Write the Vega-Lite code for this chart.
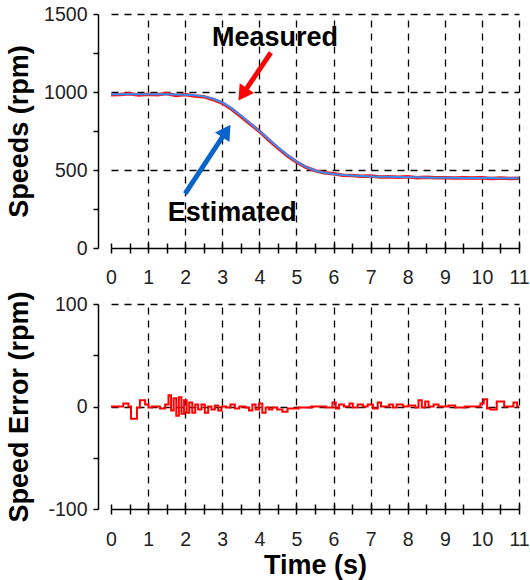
{
  "$schema": "https://vega.github.io/schema/vega-lite/v6.json",
  "padding": {"top": 4, "left": 5, "right": 0, "bottom": 1},
  "spacing": 3,
  "config": {
    "view": {"stroke": null},
    "font": "Liberation Sans",
    "axis": {
      "labelFont": "Liberation Sans",
      "labelFontSize": 19.5,
      "labelColor": "#222",
      "titleFont": "Liberation Sans",
      "titleFontSize": 27,
      "titleFontWeight": "bold",
      "titleColor": "#000",
      "domainColor": "#000",
      "domainWidth": 1.5,
      "tickColor": "#000",
      "tickWidth": 1.5,
      "gridColor": "#000",
      "gridWidth": 1.3,
      "gridDash": [7, 6],
      "labelOverlap": false,
      "labelFlush": false
    }
  },
  "datasets": {
    "speeds": [
      {"t": 0, "est": 986, "meas": 982},
      {"t": 0.25, "est": 986, "meas": 984},
      {"t": 0.5, "est": 986, "meas": 989},
      {"t": 0.75, "est": 986, "meas": 981},
      {"t": 1, "est": 986, "meas": 985},
      {"t": 1.25, "est": 986, "meas": 983},
      {"t": 1.5, "est": 985, "meas": 990},
      {"t": 1.75, "est": 984, "meas": 978},
      {"t": 2, "est": 982, "meas": 984},
      {"t": 2.25, "est": 979, "meas": 975},
      {"t": 2.5, "est": 972, "meas": 970},
      {"t": 2.75, "est": 957, "meas": 952},
      {"t": 3, "est": 933, "meas": 929},
      {"t": 3.25, "est": 895, "meas": 891},
      {"t": 3.5, "est": 849, "meas": 844},
      {"t": 3.75, "est": 800, "meas": 796},
      {"t": 4, "est": 750, "meas": 748},
      {"t": 4.25, "est": 697, "meas": 693},
      {"t": 4.5, "est": 646, "meas": 641},
      {"t": 4.75, "est": 597, "meas": 593},
      {"t": 5, "est": 554, "meas": 551},
      {"t": 5.25, "est": 520, "meas": 518},
      {"t": 5.5, "est": 497, "meas": 496},
      {"t": 5.75, "est": 483, "meas": 482},
      {"t": 6, "est": 474, "meas": 476},
      {"t": 6.25, "est": 468, "meas": 466},
      {"t": 6.5, "est": 464, "meas": 465},
      {"t": 6.75, "est": 461, "meas": 460},
      {"t": 7, "est": 459, "meas": 461},
      {"t": 7.25, "est": 457, "meas": 455},
      {"t": 7.5, "est": 456, "meas": 457},
      {"t": 7.75, "est": 455, "meas": 454},
      {"t": 8, "est": 454, "meas": 456},
      {"t": 8.25, "est": 453, "meas": 451},
      {"t": 8.5, "est": 452, "meas": 454},
      {"t": 8.75, "est": 451, "meas": 450},
      {"t": 9, "est": 450, "meas": 451},
      {"t": 9.25, "est": 450, "meas": 449},
      {"t": 9.5, "est": 449, "meas": 450},
      {"t": 9.75, "est": 449, "meas": 448},
      {"t": 10, "est": 448, "meas": 450},
      {"t": 10.25, "est": 448, "meas": 446},
      {"t": 10.5, "est": 447, "meas": 448},
      {"t": 10.75, "est": 447, "meas": 446},
      {"t": 11, "est": 447, "meas": 447}
    ],
    "arrows": [
      {"label": "Measured", "t": 4.31, "v": 1252, "t2": 3.55, "v2": 985, "tx": 4.42, "vx": 1297},
      {"label": "Estimated", "t": 2.0, "v": 348, "t2": 3.11, "v2": 750, "tx": 3.27, "vx": 175}
    ],
    "error": [
      {"t": 0, "err": 0}, {"t": 0.29, "err": 0}, {"t": 0.33, "err": 3}, {"t": 0.47, "err": 0},
      {"t": 0.54, "err": -12}, {"t": 0.7, "err": -1}, {"t": 0.78, "err": 6}, {"t": 0.92, "err": 2},
      {"t": 1.01, "err": -1}, {"t": 1.1, "err": 0}, {"t": 1.32, "err": -2}, {"t": 1.46, "err": 2},
      {"t": 1.55, "err": 11}, {"t": 1.62, "err": -4}, {"t": 1.69, "err": 8}, {"t": 1.76, "err": -9},
      {"t": 1.83, "err": 9}, {"t": 1.9, "err": -7}, {"t": 1.97, "err": 6}, {"t": 2.04, "err": -6},
      {"t": 2.11, "err": 4}, {"t": 2.19, "err": -6}, {"t": 2.27, "err": 2}, {"t": 2.35, "err": -3},
      {"t": 2.44, "err": 2}, {"t": 2.53, "err": -6}, {"t": 2.62, "err": 0}, {"t": 2.71, "err": -3},
      {"t": 2.8, "err": 1}, {"t": 2.89, "err": -4}, {"t": 2.98, "err": 0}, {"t": 3.1, "err": -1},
      {"t": 3.22, "err": 2}, {"t": 3.34, "err": -2}, {"t": 3.46, "err": 0}, {"t": 3.62, "err": -1},
      {"t": 3.72, "err": -4}, {"t": 3.81, "err": 2}, {"t": 3.9, "err": -3}, {"t": 3.99, "err": 3},
      {"t": 4.08, "err": -6}, {"t": 4.17, "err": -1}, {"t": 4.26, "err": -3}, {"t": 4.35, "err": -1},
      {"t": 4.48, "err": -3}, {"t": 4.62, "err": -5}, {"t": 4.76, "err": -2}, {"t": 5.05, "err": -1},
      {"t": 5.4, "err": 0}, {"t": 5.8, "err": -1}, {"t": 5.97, "err": 4}, {"t": 6.06, "err": -2},
      {"t": 6.15, "err": 2}, {"t": 6.28, "err": 0}, {"t": 6.43, "err": 3}, {"t": 6.52, "err": -1},
      {"t": 6.65, "err": 2}, {"t": 6.79, "err": 0}, {"t": 6.92, "err": 2}, {"t": 7.06, "err": -2},
      {"t": 7.19, "err": 4}, {"t": 7.28, "err": 0}, {"t": 7.5, "err": 2}, {"t": 7.6, "err": -1},
      {"t": 7.7, "err": 2}, {"t": 7.87, "err": 0}, {"t": 8.02, "err": 1}, {"t": 8.2, "err": -1},
      {"t": 8.29, "err": 6}, {"t": 8.38, "err": -1}, {"t": 8.47, "err": 5}, {"t": 8.56, "err": 0},
      {"t": 8.7, "err": 2}, {"t": 8.83, "err": 0}, {"t": 9.1, "err": 1}, {"t": 9.28, "err": -1},
      {"t": 9.55, "err": 0}, {"t": 9.96, "err": 3}, {"t": 10.05, "err": 7}, {"t": 10.14, "err": -2},
      {"t": 10.23, "err": -3}, {"t": 10.4, "err": 5}, {"t": 10.6, "err": 0}, {"t": 10.85, "err": 4},
      {"t": 10.95, "err": 0}, {"t": 11, "err": 0}
    ]
  },
  "vconcat": [
    {
      "width": 408,
      "height": 234,
      "resolve": {"scale": {"x": "shared", "y": "shared"}, "axis": {"x": "independent", "y": "independent"}},
      "layer": [
        {
          "description": "solid left frame line; carries the labelled time axis and the dashed vertical grid",
          "mark": {"type": "rule", "color": "#000", "strokeWidth": 1.5},
          "encoding": {
            "x": {
              "datum": 0, "type": "quantitative",
              "scale": {"domain": [0, 11], "nice": false, "zero": false},
              "axis": {
                "orient": "bottom", "title": null,
                "values": [0, 0.5, 1, 1.5, 2, 2.5, 3, 3.5, 4, 4.5, 5, 5.5, 6, 6.5, 7, 7.5, 8, 8.5, 9, 9.5, 10, 10.5, 11],
                "labelExpr": "datum.value % 1 === 0 ? '' + datum.value : ''",
                "tickSize": 5, "labelPadding": 15,
                "grid": true,
                "gridOpacity": {"condition": {"test": "datum.value % 1 === 0 && datum.value > 0", "value": 1}, "value": 0}
              }
            }
          }
        },
        {
          "data": {"name": "speeds"},
          "mark": {"type": "line", "color": "#ff1010", "strokeWidth": 3.5},
          "encoding": {
            "x": {
              "field": "t", "type": "quantitative",
              "scale": {"domain": [0, 11], "nice": false, "zero": false},
              "axis": {
                "orient": "bottom", "title": null, "labels": false, "domain": false, "grid": false,
                "values": [0, 0.5, 1, 1.5, 2, 2.5, 3, 3.5, 4, 4.5, 5, 5.5, 6, 6.5, 7, 7.5, 8, 8.5, 9, 9.5, 10, 10.5, 11],
                "tickSize": -5
              }
            },
            "y": {
              "field": "meas", "type": "quantitative",
              "scale": {"domain": [0, 1500], "nice": false},
              "axis": {
                "orient": "left", "offset": 13, "title": "Speeds (rpm)", "titlePadding": 10,
                "values": [0, 250, 500, 750, 1000, 1250, 1500],
                "labelExpr": "datum.value % 500 === 0 ? '' + datum.value : ''",
                "tickSize": 5, "labelPadding": 6,
                "grid": true,
                "gridOpacity": {"condition": {"test": "datum.value % 500 === 0 && datum.value > 0", "value": 1}, "value": 0}
              }
            }
          }
        },
        {
          "data": {"name": "speeds"},
          "mark": {"type": "line", "color": "#3090f8", "strokeWidth": 2},
          "encoding": {
            "x": {"field": "t", "type": "quantitative", "scale": {"domain": [0, 11], "nice": false, "zero": false}, "axis": null},
            "y": {"field": "est", "type": "quantitative", "scale": {"domain": [0, 1500], "nice": false}, "axis": null}
          }
        },
        {
          "data": {"name": "arrows"},
          "mark": {"type": "rule", "strokeWidth": 5, "strokeCap": "butt"},
          "encoding": {
            "x": {"field": "t", "type": "quantitative", "scale": {"domain": [0, 11], "nice": false, "zero": false}, "axis": null},
            "y": {"field": "v", "type": "quantitative", "scale": {"domain": [0, 1500], "nice": false}, "axis": null},
            "x2": {"field": "t2"},
            "y2": {"field": "v2"},
            "color": {"field": "label", "type": "nominal", "scale": {"domain": ["Measured", "Estimated"], "range": ["#ff0000", "#0a63c9"]}, "legend": null}
          }
        },
        {
          "data": {"name": "arrows"},
          "transform": [{"filter": "datum.label === 'Measured'"}],
          "mark": {"type": "point", "shape": "triangle-up", "filled": true, "opacity": 1, "size": 300, "angle": 214, "color": "#ff0000"},
          "encoding": {
            "x": {"field": "t2", "type": "quantitative", "scale": {"domain": [0, 11], "nice": false, "zero": false}, "axis": null},
            "y": {"field": "v2", "type": "quantitative", "scale": {"domain": [0, 1500], "nice": false}, "axis": null}
          }
        },
        {
          "data": {"name": "arrows"},
          "transform": [{"filter": "datum.label === 'Estimated'"}],
          "mark": {"type": "point", "shape": "triangle-up", "filled": true, "opacity": 1, "size": 300, "angle": 33.5, "color": "#0a63c9"},
          "encoding": {
            "x": {"field": "t2", "type": "quantitative", "scale": {"domain": [0, 11], "nice": false, "zero": false}, "axis": null},
            "y": {"field": "v2", "type": "quantitative", "scale": {"domain": [0, 1500], "nice": false}, "axis": null}
          }
        },
        {
          "data": {"name": "arrows"},
          "mark": {"type": "text", "font": "Liberation Sans", "fontSize": 27, "fontWeight": "bold", "color": "#000", "align": "center", "baseline": "alphabetic"},
          "encoding": {
            "x": {"field": "tx", "type": "quantitative", "scale": {"domain": [0, 11], "nice": false, "zero": false}, "axis": null},
            "y": {"field": "vx", "type": "quantitative", "scale": {"domain": [0, 1500], "nice": false}, "axis": null},
            "text": {"field": "label"}
          }
        }
      ]
    },
    {
      "width": 408,
      "height": 205,
      "resolve": {"scale": {"x": "shared", "y": "shared"}, "axis": {"x": "independent", "y": "independent"}},
      "layer": [
        {
          "description": "solid left frame line; carries the labelled time axis and the dashed vertical grid",
          "mark": {"type": "rule", "color": "#000", "strokeWidth": 1.5},
          "encoding": {
            "x": {
              "datum": 0, "type": "quantitative",
              "scale": {"domain": [0, 11], "nice": false, "zero": false},
              "axis": {
                "orient": "bottom", "title": "Time (s)", "titlePadding": 4,
                "values": [0, 0.5, 1, 1.5, 2, 2.5, 3, 3.5, 4, 4.5, 5, 5.5, 6, 6.5, 7, 7.5, 8, 8.5, 9, 9.5, 10, 10.5, 11],
                "labelExpr": "datum.value % 1 === 0 ? '' + datum.value : ''",
                "tickSize": 5, "labelPadding": 16,
                "grid": true,
                "gridOpacity": {"condition": {"test": "datum.value % 1 === 0 && datum.value > 0", "value": 1}, "value": 0}
              }
            }
          }
        },
        {
          "data": {"name": "error"},
          "mark": {"type": "line", "color": "#ff0000", "strokeWidth": 2, "interpolate": "step-after"},
          "encoding": {
            "x": {
              "field": "t", "type": "quantitative",
              "scale": {"domain": [0, 11], "nice": false, "zero": false},
              "axis": {
                "orient": "bottom", "title": null, "labels": false, "domain": false, "grid": false,
                "values": [0, 0.5, 1, 1.5, 2, 2.5, 3, 3.5, 4, 4.5, 5, 5.5, 6, 6.5, 7, 7.5, 8, 8.5, 9, 9.5, 10, 10.5, 11],
                "tickSize": -5
              }
            },
            "y": {
              "field": "err", "type": "quantitative",
              "scale": {"domain": [-100, 100], "nice": false},
              "axis": {
                "orient": "left", "offset": 13, "title": "Speed Error (rpm)", "titlePadding": 14,
                "values": [-100, -50, 0, 50, 100],
                "labelExpr": "datum.value % 100 === 0 ? '' + datum.value : ''",
                "tickSize": 5, "labelPadding": 6,
                "grid": true,
                "gridOpacity": {"condition": {"test": "datum.value % 100 === 0 && datum.value > -100", "value": 1}, "value": 0}
              }
            }
          }
        }
      ]
    }
  ]
}
